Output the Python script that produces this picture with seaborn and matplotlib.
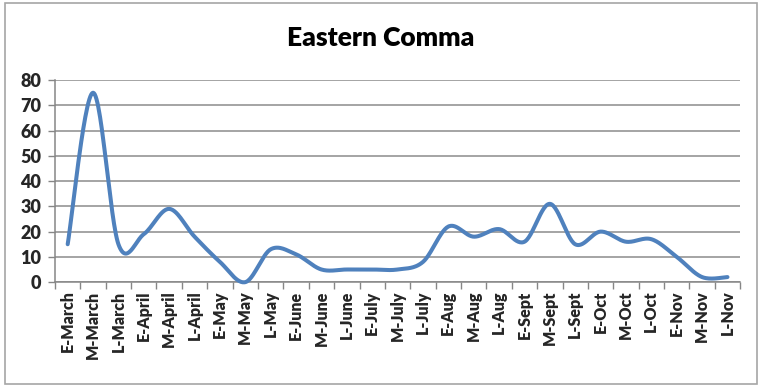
import numpy as np
import pandas as pd
import matplotlib
matplotlib.use('Agg')
import matplotlib.pyplot as plt
import seaborn as sns
from matplotlib.patches import Rectangle

# categories and counts
periods = ['E-March', 'M-March', 'L-March', 'E-April', 'M-April', 'L-April',
           'E-May', 'M-May', 'L-May', 'E-June', 'M-June', 'L-June',
           'E-July', 'M-July', 'L-July', 'E-Aug', 'M-Aug', 'L-Aug',
           'E-Sept', 'M-Sept', 'L-Sept', 'E-Oct', 'M-Oct', 'L-Oct',
           'E-Nov', 'M-Nov', 'L-Nov']
counts = [15, 75, 15, 19, 29, 18,
          8, 0, 13, 11, 5, 5,
          5, 5, 8, 22, 18, 21,
          16, 31, 15, 20, 16, 17,
          10, 2, 2]
y_ticks = [0, 10, 20, 30, 40, 50, 60, 70, 80]

sns.set_theme(style='white')
plt.rcParams['font.family'] = ['Lato', 'DejaVu Sans']

df = pd.DataFrame({'period': periods, 'count': counts})
df['pos'] = np.arange(len(df))

# smoothed line like excel (catmull-rom / bezier)
xs, ys = df['pos'].to_numpy(float), df['count'].to_numpy(float)
px = np.concatenate([[xs[0]], xs, [xs[-1]]])
py = np.concatenate([[ys[0]], ys, [ys[-1]]])
t = np.linspace(0, 1, 30)
sx, sy = [], []
for i in range(1, len(px) - 2):
    p0, p1, p2, p3 = [np.array([px[j], py[j]]) for j in (i - 1, i, i + 1, i + 2)]
    c1 = p1 + (p2 - p0) / 6
    c2 = p2 - (p3 - p1) / 6
    seg = ((1 - t) ** 3)[:, None] * p1 + (3 * (1 - t) ** 2 * t)[:, None] * c1 \
        + (3 * (1 - t) * t ** 2)[:, None] * c2 + (t ** 3)[:, None] * p2
    sx.extend(seg[:, 0])
    sy.extend(seg[:, 1])
smooth = pd.DataFrame({'x': sx, 'y': sy})

fig = plt.figure(figsize=(7.67, 3.87), dpi=100)
ax = fig.add_axes([0.0717, 0.271, 0.8933, 0.522])

sns.lineplot(data=smooth, x='x', y='y', sort=False, ax=ax,
             color='#4F81BD', linewidth=2.9, clip_on=False, zorder=3)

ax.set_xlim(-0.5, len(periods) - 0.5)
ax.set_ylim(0, 80)
ax.set_yticks(y_ticks)
ax.set_xticks(df['pos'])
ax.set_xticklabels(periods, rotation=90, fontweight='heavy', fontsize=11.5)
ax.set_xticks(np.arange(-0.5, len(periods)), minor=True)
ax.tick_params(axis='x', which='major', length=0, pad=6)
ax.tick_params(axis='x', which='minor', length=5, width=1, color='#868686', bottom=True)
ax.tick_params(axis='y', length=5, width=1, color='#868686', left=True, pad=5)
for lab in ax.get_yticklabels():
    lab.set_fontweight('heavy')
    lab.set_fontsize(13)
ax.yaxis.grid(True, color='#8C8C8C', linewidth=1.1)
ax.xaxis.grid(False)
for s in ['top', 'right']:
    ax.spines[s].set_visible(False)
for s in ['left', 'bottom']:
    ax.spines[s].set_color('#868686')
    ax.spines[s].set_linewidth(1.1)
ax.set_xlabel('')
ax.set_ylabel('')

fig.text(0.496, 0.902, 'Eastern Comma', ha='center', va='center',
         fontsize=19, fontweight='heavy', color='black')

fig.patches.append(Rectangle((5 / 767, 3 / 387), 752 / 767, 381 / 387,
                             transform=fig.transFigure, fill=False,
                             edgecolor='#A6A6A6', linewidth=1.2))

fig.savefig('out.png', dpi=100)
